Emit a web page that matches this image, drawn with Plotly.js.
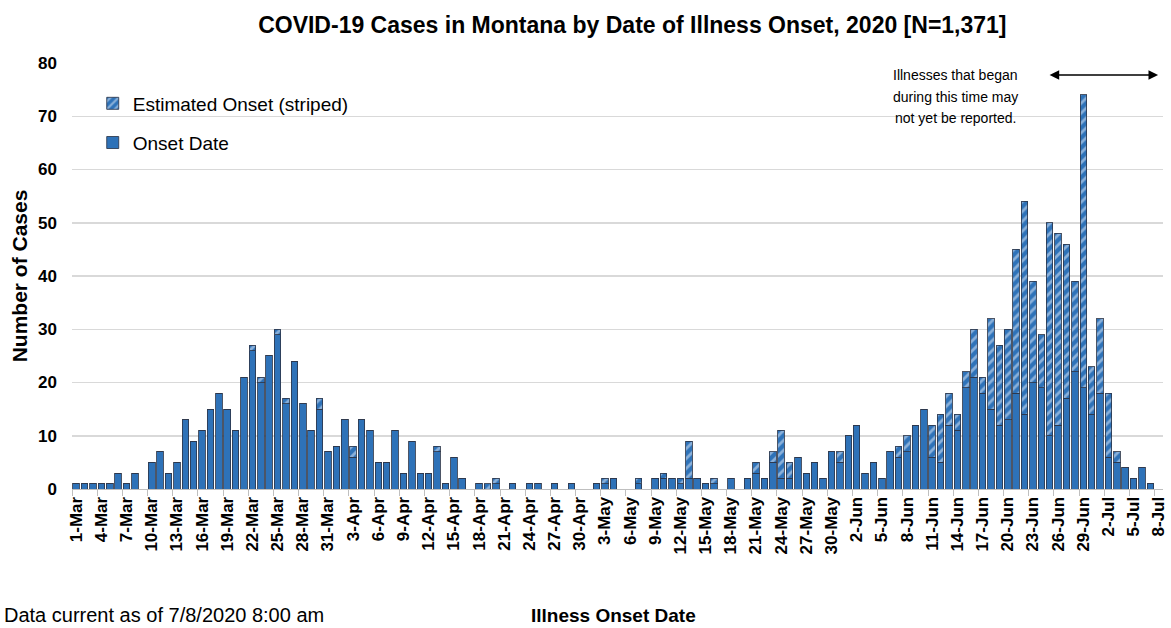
<!DOCTYPE html>
<html>
<head>
<meta charset="utf-8">
<script src="https://cdn.plot.ly/plotly-3.0.1.min.js"></script>
<style>
  html, body { margin: 0; padding: 0; background: #ffffff; }
  #chart { width: 1171px; height: 628px; }
</style>
</head>
<body>
<div id="chart"></div>
<script>
// ---- categories (illness onset dates) ----
const datesMar = ["1-Mar","2-Mar","3-Mar","4-Mar","5-Mar","6-Mar","7-Mar","8-Mar","9-Mar","10-Mar","11-Mar","12-Mar","13-Mar","14-Mar","15-Mar","16-Mar","17-Mar","18-Mar","19-Mar","20-Mar","21-Mar","22-Mar","23-Mar","24-Mar","25-Mar","26-Mar","27-Mar","28-Mar","29-Mar","30-Mar","31-Mar"];
const datesApr = ["1-Apr","2-Apr","3-Apr","4-Apr","5-Apr","6-Apr","7-Apr","8-Apr","9-Apr","10-Apr","11-Apr","12-Apr","13-Apr","14-Apr","15-Apr","16-Apr","17-Apr","18-Apr","19-Apr","20-Apr","21-Apr","22-Apr","23-Apr","24-Apr","25-Apr","26-Apr","27-Apr","28-Apr","29-Apr","30-Apr"];
const datesMay = ["1-May","2-May","3-May","4-May","5-May","6-May","7-May","8-May","9-May","10-May","11-May","12-May","13-May","14-May","15-May","16-May","17-May","18-May","19-May","20-May","21-May","22-May","23-May","24-May","25-May","26-May","27-May","28-May","29-May","30-May","31-May"];
const datesJun = ["1-Jun","2-Jun","3-Jun","4-Jun","5-Jun","6-Jun","7-Jun","8-Jun","9-Jun","10-Jun","11-Jun","12-Jun","13-Jun","14-Jun","15-Jun","16-Jun","17-Jun","18-Jun","19-Jun","20-Jun","21-Jun","22-Jun","23-Jun","24-Jun","25-Jun","26-Jun","27-Jun","28-Jun","29-Jun","30-Jun"];
const datesJul = ["1-Jul","2-Jul","3-Jul","4-Jul","5-Jul","6-Jul","7-Jul","8-Jul"];

// ---- Onset Date (solid) counts ----
const onsetMar = [1,1,1,1,1,3,1,3,0,5,7,3,5,13,9,11,15,18,15,11,21,26,20,25,29,16,24,16,11,15,7];
const onsetApr = [8,13,6,13,11,5,5,11,3,9,3,3,7,1,6,2,0,1,0,1,0,1,0,1,1,0,1,0,1,0];
const onsetMay = [0,1,1,2,0,0,1,0,2,2,2,1,2,2,1,1,0,2,0,2,3,2,5,2,2,6,3,5,2,7,5];
const onsetJun = [10,12,3,5,2,7,6,7,12,15,6,5,12,11,19,21,18,15,12,13,18,14,20,19,10,12,17,22,19,14];
const onsetJul = [18,6,5,4,2,4,1,0];

// ---- Estimated Onset (striped) counts ----
const estMar = [0,0,0,0,0,0,0,0,0,0,0,0,0,0,0,0,0,0,0,0,0,1,1,0,1,1,0,0,0,2,0];
const estApr = [0,0,2,0,0,0,0,0,0,0,0,0,1,0,0,0,0,0,1,1,0,0,0,0,0,0,0,0,0,0];
const estMay = [0,0,1,0,0,0,1,0,0,1,0,1,7,0,0,1,0,0,0,0,2,0,2,9,3,0,0,0,0,0,2];
const estJun = [0,0,0,0,0,0,2,3,0,0,6,9,6,3,3,9,3,17,15,17,27,40,19,10,40,36,29,17,55,9];
const estJul = [14,12,2,0,0,0,0,0];

const categories = [].concat(datesMar, datesApr, datesMay, datesJun, datesJul);
const onsetValues = [].concat(onsetMar, onsetApr, onsetMay, onsetJun, onsetJul);
const estimatedValues = [].concat(estMar, estApr, estMay, estJun, estJul);

const yTickVals = [0,10,20,30,40,50,60,70,80];
const noteLines = ["Illnesses that began", "during this time may", "not yet be reported."];

const BLUE = '#2e72b8';
const OUTLINE = 'rgba(45,55,75,0.85)';
const SANS = '"Liberation Sans", Arial, sans-serif';

const traces = [
  {
    type: 'bar',
    name: 'Onset Date',
    x: categories,
    y: onsetValues,
    marker: { color: BLUE, line: { color: OUTLINE, width: 1 } },
    legend: 'legend2',
    hoverinfo: 'x+y+name'
  },
  {
    type: 'bar',
    name: 'Estimated Onset (striped)',
    x: categories,
    y: estimatedValues,
    marker: {
      color: BLUE,
      line: { color: OUTLINE, width: 1 },
      pattern: { shape: '/', bgcolor: BLUE, fgcolor: '#e6eef9', size: 7, solidity: 0.4, fillmode: 'overlay' }
    },
    legend: 'legend',
    hoverinfo: 'x+y+name'
  }
];

const noteY = [0.9718, 0.9202, 0.8709];
const annotations = noteLines.map((t, i) => ({
  xref: 'paper', yref: 'paper',
  x: 0.8094, y: noteY[i], xanchor: 'center', yanchor: 'middle',
  text: t, showarrow: false,
  font: { family: SANS, size: 14, color: '#000000' }
}));
annotations.push(
  {
    xref: 'paper', yref: 'paper',
    x: 0.9955, y: 0.972,
    ax: -110, ay: 0,
    text: '',
    showarrow: true,
    arrowside: 'end+start',
    arrowhead: 2,
    arrowsize: 1.2,
    arrowwidth: 1.6,
    arrowcolor: '#000000'
  },
  {
    xref: 'paper', yref: 'paper',
    x: 0.496, y: -0.296, xanchor: 'center', yanchor: 'middle',
    text: 'Illness Onset Date',
    showarrow: false,
    font: { family: SANS, size: 19, color: '#000000', weight: 'bold' }
  },
  {
    xref: 'paper', yref: 'paper',
    x: -0.064, y: -0.296, xanchor: 'left', yanchor: 'middle',
    text: 'Data current as of 7/8/2020 8:00 am',
    showarrow: false,
    font: { family: SANS, size: 20, color: '#000000' }
  }
);

const layout = {
  width: 1171,
  height: 628,
  paper_bgcolor: '#ffffff',
  plot_bgcolor: '#ffffff',
  margin: { l: 72, r: 8, t: 63, b: 139 },
  barmode: 'stack',
  bargap: 0.22,
  title: {
    text: 'COVID-19 Cases in Montana by Date of Illness Onset, 2020 [N=1,371]',
    font: { family: SANS, size: 23, color: '#000000', weight: 'bold' },
    x: 0.54, xanchor: 'center',
    y: 0.96, yanchor: 'middle'
  },
  xaxis: {
    type: 'category',
    tickmode: 'linear',
    tick0: 0,
    dtick: 3,
    tickson: 'boundaries',
    ticks: 'outside',
    ticklen: 6,
    tickcolor: '#bfbfbf',
    tickangle: -90,
    tickfont: { family: SANS, size: 17, color: '#000000', weight: 'bold' },
    showgrid: false,
    showline: true,
    linecolor: '#bfbfbf',
    linewidth: 1,
    zeroline: false,
    fixedrange: true
  },
  yaxis: {
    range: [0, 80],
    tickmode: 'array',
    tickvals: yTickVals,
    ticktext: yTickVals.map(String),
    tickfont: { family: SANS, size: 17, color: '#000000', weight: 'bold' },
    ticklabelstandoff: 14,
    showgrid: true,
    gridcolor: '#d9d9d9',
    gridwidth: 1.5,
    zeroline: false,
    showline: false,
    ticks: '',
    title: {
      text: 'Number of Cases',
      font: { family: SANS, size: 21, color: '#000000', weight: 'bold' },
      standoff: 4
    },
    fixedrange: true
  },
  legend: {
    x: 0.019, xanchor: 'left',
    y: 0.905, yanchor: 'middle',
    bgcolor: 'rgba(0,0,0,0)',
    font: { family: SANS, size: 19, color: '#000000' },
    itemwidth: 30
  },
  legend2: {
    x: 0.019, xanchor: 'left',
    y: 0.813, yanchor: 'middle',
    bgcolor: 'rgba(0,0,0,0)',
    font: { family: SANS, size: 19, color: '#000000' },
    itemwidth: 30
  },
  annotations: annotations,
  showlegend: true
};

Plotly.newPlot('chart', traces, layout, { displayModeBar: false, staticPlot: true });
</script>
</body>
</html>
